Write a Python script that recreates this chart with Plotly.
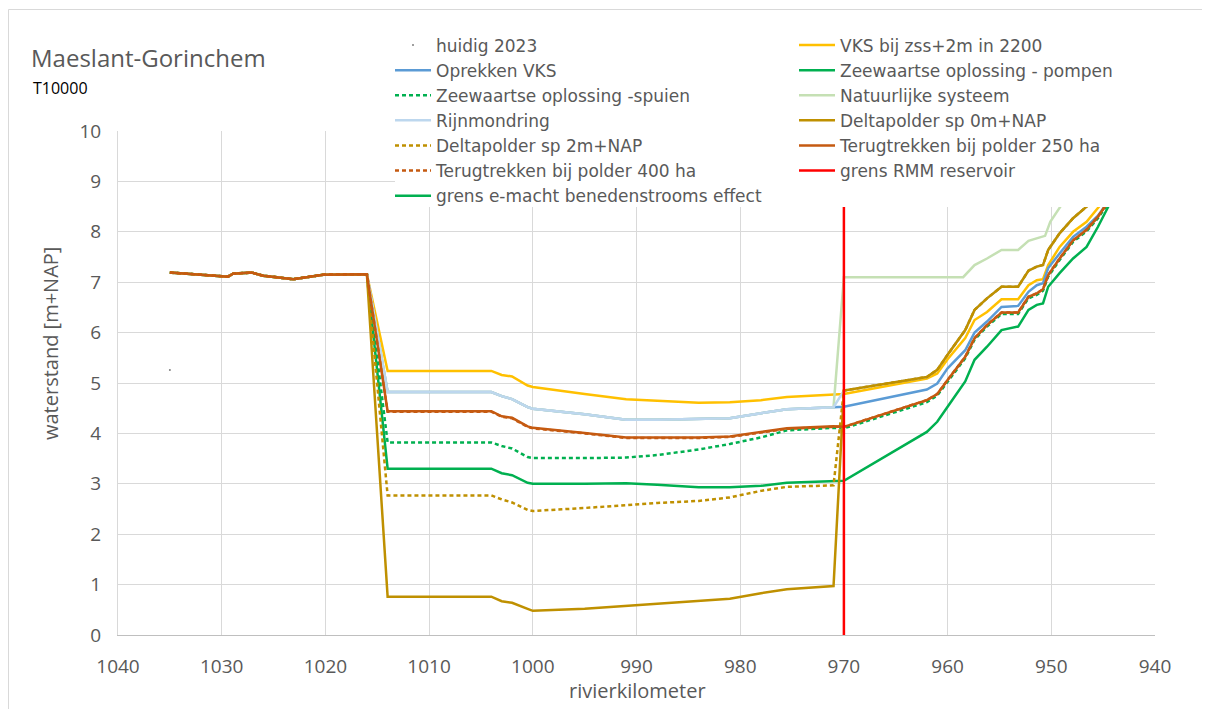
import plotly.graph_objects as go

# gedeeld stuk bovenstrooms (alle varianten gelijk)
left_km = [1035, 1029.4, 1028.9, 1027.1, 1026.0, 1023.1, 1020.2, 1018.9, 1016.0]
left_wl = [7.19, 7.11, 7.17, 7.19, 7.13, 7.06, 7.15, 7.15, 7.16]

# middenstuk 1014 - 971
mid_km = [1014, 1004, 1003, 1002, 1000.5, 1000, 995, 991, 988, 984, 981, 978, 975.5, 971]
mid_vks_zss = [5.24, 5.24, 5.16, 5.13, 4.95, 4.92, 4.78, 4.68, 4.65, 4.61, 4.62, 4.66, 4.72, 4.77]
mid_oprekken = [4.82, 4.82, 4.74, 4.68, 4.52, 4.49, 4.38, 4.27, 4.27, 4.28, 4.30, 4.40, 4.48, 4.52]
mid_pompen = [3.30, 3.30, 3.21, 3.17, 3.02, 3.00, 3.00, 3.01, 2.98, 2.93, 2.93, 2.96, 3.02, 3.05]
mid_spuien = [3.82, 3.82, 3.75, 3.70, 3.53, 3.51, 3.51, 3.52, 3.57, 3.68, 3.79, 3.92, 4.06, 4.11]
mid_delta0 = [0.76, 0.76, 0.67, 0.64, 0.52, 0.48, 0.52, 0.58, 0.63, 0.68, 0.72, 0.83, 0.91, 0.97]
mid_delta2 = [2.77, 2.77, 2.69, 2.63, 2.48, 2.46, 2.52, 2.58, 2.62, 2.66, 2.73, 2.86, 2.94, 2.97]
mid_terug250 = [4.44, 4.44, 4.34, 4.31, 4.14, 4.11, 4.01, 3.92, 3.92, 3.92, 3.94, 4.02, 4.10, 4.14]
mid_terug400 = [4.43, 4.43, 4.33, 4.30, 4.13, 4.10, 4.00, 3.91, 3.91, 3.91, 3.93, 4.01, 4.09, 4.13]

# benedenstrooms 970 - 944
right_km = [970, 962, 961, 960, 958.3, 957.4, 956.2, 954.8, 953.2, 952.2, 951.4, 950.8, 950.3, 949.2, 947.9, 946.6, 945.5, 944]
right_vks_zss = [4.78, 5.09, 5.19, 5.47, 5.89, 6.25, 6.41, 6.66, 6.66, 6.94, 7.04, 7.06, 7.34, 7.70, 8.00, 8.20, 8.47, 8.85]
right_oprekken = [4.53, 4.87, 4.99, 5.29, 5.65, 6.00, 6.22, 6.51, 6.53, 6.81, 6.94, 6.98, 7.28, 7.57, 7.90, 8.10, 8.32, 8.75]
right_pompen = [3.06, 4.03, 4.23, 4.53, 5.03, 5.46, 5.72, 6.05, 6.12, 6.45, 6.55, 6.58, 6.91, 7.18, 7.47, 7.70, 8.10, 8.70]
right_delta = [4.85, 5.12, 5.26, 5.56, 6.05, 6.45, 6.68, 6.91, 6.91, 7.23, 7.31, 7.34, 7.64, 7.97, 8.27, 8.50, 8.75, 9.10]
right_terug = [4.13, 4.66, 4.78, 5.06, 5.52, 5.89, 6.15, 6.40, 6.40, 6.71, 6.78, 6.86, 7.14, 7.47, 7.83, 8.04, 8.30, 8.75]
right_spuien = [4.10, 4.62, 4.75, 5.03, 5.49, 5.86, 6.12, 6.37, 6.37, 6.68, 6.75, 6.83, 7.11, 7.44, 7.80, 8.01, 8.27, 8.72]

natuur_km = [970, 958.5, 957.4, 956.2, 954.8, 953.2, 952.2, 951.1, 950.6, 950.1, 949.2, 947.5, 945.5]
natuur_wl = [7.10, 7.10, 7.34, 7.47, 7.64, 7.64, 7.82, 7.89, 7.92, 8.20, 8.47, 9.00, 9.50]

huidig_km = [1035]
huidig_wl = [5.26]

rmm_km = [970, 970]
rmm_wl = [0, 10]

fig = go.Figure()

def add_line(name, km, wl, color, dash="solid", legend="legend"):
    fig.add_trace(go.Scatter(x=km, y=wl, mode="lines", name=name, legend=legend,
                             line=dict(color=color, width=2.5, dash=dash)))

dot = "4px,3px"

fig.add_trace(go.Scatter(x=huidig_km, y=huidig_wl, mode="markers", name="huidig 2023",
                         marker=dict(color="#7f7f7f", size=2), legend="legend"))
add_line("VKS bij zss+2m in 2200", left_km + mid_km + right_km,
         left_wl + mid_vks_zss + right_vks_zss, "#FFC000", legend="legend2")
add_line("Oprekken VKS", left_km + mid_km + right_km,
         left_wl + mid_oprekken + right_oprekken, "#5B9BD5")
add_line("Zeewaartse oplossing - pompen", left_km + mid_km + right_km,
         left_wl + mid_pompen + right_pompen, "#00B050", legend="legend2")
add_line("Zeewaartse oplossing -spuien", left_km + mid_km + right_km,
         left_wl + mid_spuien + right_spuien, "#00B050", dot)
add_line("Natuurlijke systeem", left_km + mid_km + natuur_km,
         left_wl + mid_oprekken + natuur_wl, "#C5E0B4", legend="legend2")
add_line("Rijnmondring", left_km + mid_km + right_km,
         left_wl + mid_oprekken + right_delta, "#BDD7EE")
add_line("Deltapolder sp 0m+NAP", left_km + mid_km + right_km,
         left_wl + mid_delta0 + right_delta, "#BF9000", legend="legend2")
add_line("Deltapolder sp 2m+NAP", left_km + mid_km + right_km,
         left_wl + mid_delta2 + right_delta, "#BF9000", dot)
add_line("Terugtrekken bij polder 250 ha", left_km + mid_km + right_km,
         left_wl + mid_terug250 + right_terug, "#C55A11", legend="legend2")
add_line("Terugtrekken bij polder 400 ha", left_km + mid_km + right_km,
         left_wl + mid_terug400 + right_terug, "#C55A11", dot)
add_line("grens RMM reservoir", rmm_km, rmm_wl, "#FF0000", legend="legend2")
add_line("grens e-macht benedenstrooms effect", [None], [None], "#00B050")

# pagina heeft 8px body-marge: schermpositie = layoutpositie + 8
grid = "#D9D9D9"
L, T, W, H = 118, 131, 1037, 504   # plotgebied in schermpixels
def px(x):
    return (x - L) / W
def py(y):
    return (T + H - y) / H

leg_font = dict(family="DejaVu Sans", size=17, color="#595959")
fig.update_layout(
    width=1202, height=701,
    margin=dict(l=L - 8, r=1202 - (L - 8) - W, t=T - 8, b=701 - (T - 8) - H, autoexpand=False),
    plot_bgcolor="white", paper_bgcolor="white",
    font=dict(family="Open Sans", color="#595959"),
    showlegend=True,
    legend=dict(x=px(390), y=py(27.5), xanchor="left", yanchor="top",
                bgcolor="rgba(0,0,0,0)", font=leg_font, traceorder="normal", itemwidth=36),
    legend2=dict(x=px(794), y=py(27.5), xanchor="left", yanchor="top",
                 bgcolor="rgba(0,0,0,0)", font=leg_font, traceorder="normal", itemwidth=36),
    xaxis=dict(range=[1040, 940], tick0=940, dtick=10, showgrid=True, gridcolor=grid,
               showline=True, linecolor="#BFBFBF", zeroline=False,
               tickfont=dict(size=19), ticklabelstandoff=14),
    yaxis=dict(range=[0, 10], dtick=1, showgrid=True, gridcolor=grid,
               showline=True, linecolor=grid, zeroline=False,
               tickfont=dict(size=19), ticklabelstandoff=12),
    annotations=[
        dict(text="Maeslant-Gorinchem", xref="paper", yref="paper", x=px(29), y=py(57),
             xanchor="left", yanchor="middle", showarrow=False,
             font=dict(size=24, color="#595959")),
        dict(text="T10000", xref="paper", yref="paper", x=px(31), y=py(88),
             xanchor="left", yanchor="middle", showarrow=False,
             font=dict(size=16, color="black")),
        dict(text="waterstand [m+NAP]", xref="paper", yref="paper", x=px(50), y=py(344),
             xanchor="center", yanchor="middle", textangle=-90,
             showarrow=False, font=dict(size=20, color="#595959")),
        dict(text="rivierkilometer", xref="paper", yref="paper", x=px(637), y=py(690),
             xanchor="center", yanchor="middle", showarrow=False,
             font=dict(size=20, color="#595959")),
    ],
    shapes=[
        # witte achtergrond van de legenda over het plotgebied
        dict(type="rect", xref="paper", yref="paper", layer="above",
             x0=px(395), x1=px(1162), y0=py(207), y1=py(28),
             fillcolor="white", line=dict(width=0)),
        dict(type="line", xref="paper", yref="paper", x0=px(8.5), x1=px(8.5),
             y0=py(9.5), y1=py(720), line=dict(color=grid, width=1)),
        dict(type="line", xref="paper", yref="paper", x0=px(8.5), x1=px(1220),
             y0=py(9.5), y1=py(9.5), line=dict(color=grid, width=1)),
    ],
)

fig.write_html("out.html")
